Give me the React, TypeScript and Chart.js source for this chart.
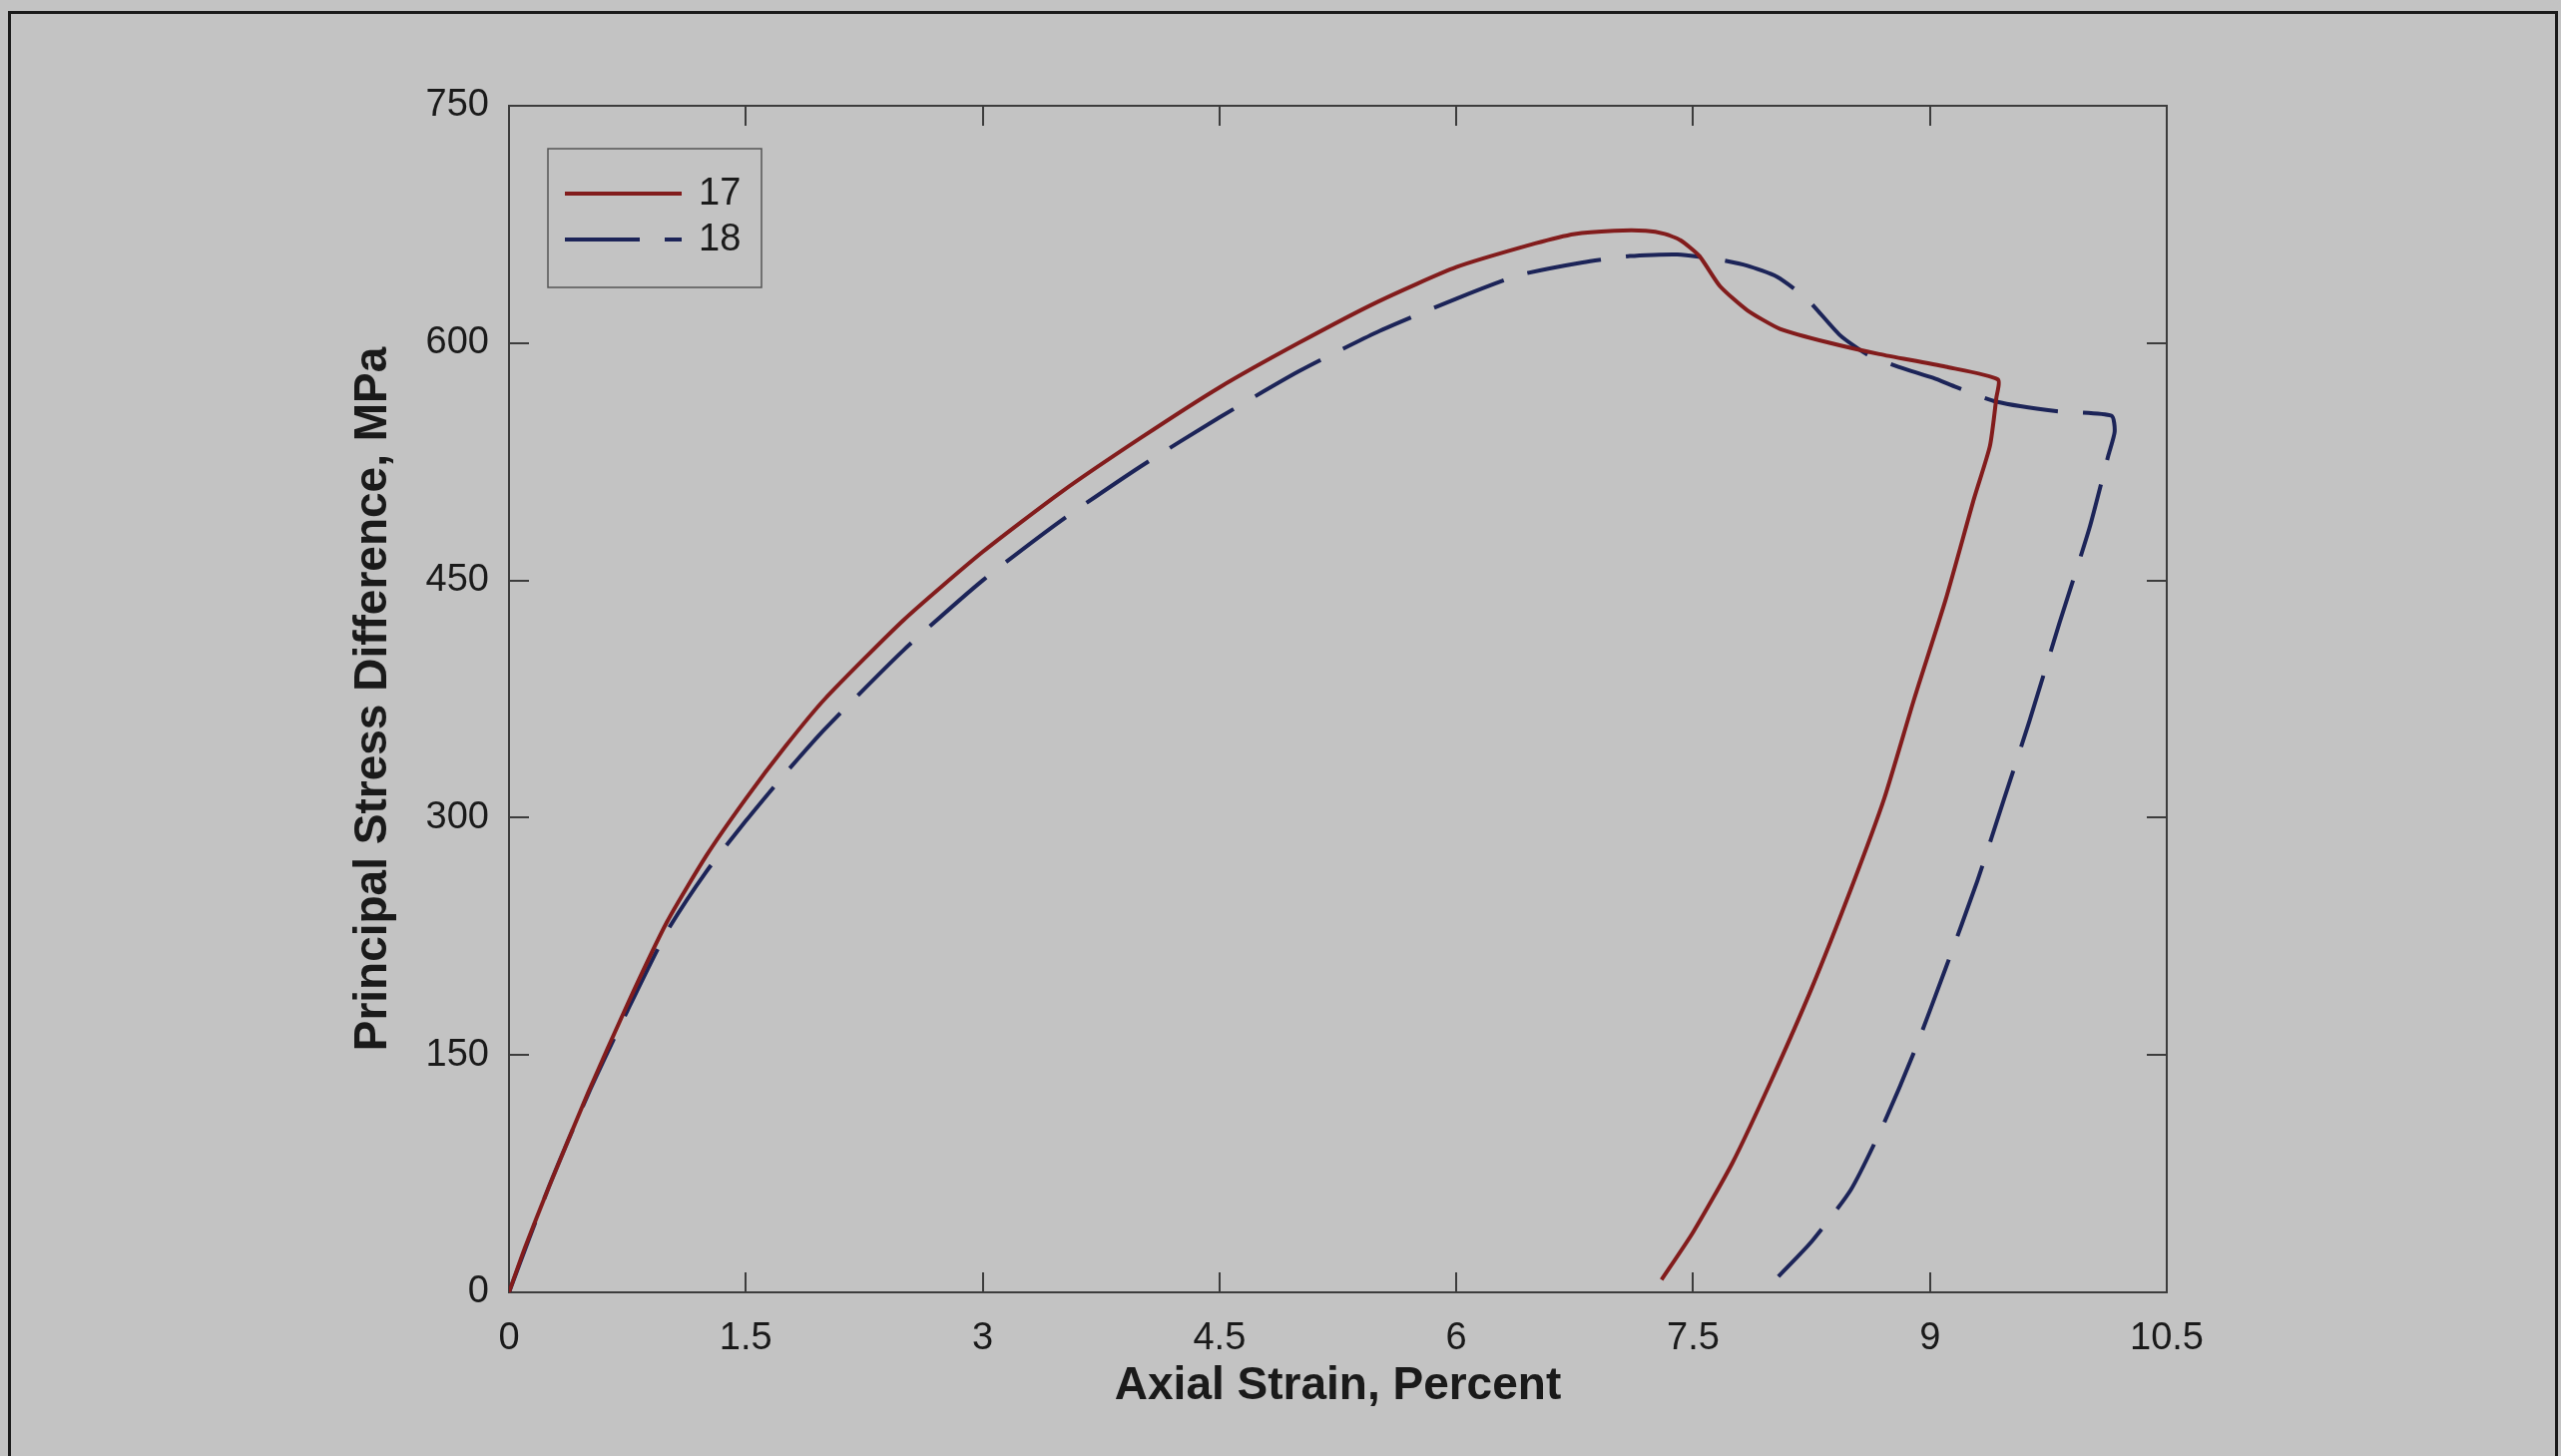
import React, { useEffect, useRef } from 'react';
import { Chart, registerables } from 'chart.js';

Chart.register(...registerables);

// ---- data ----
const xTickValues = [0, 1.5, 3, 4.5, 6, 7.5, 9, 10.5];
const yTickValues = [0, 150, 300, 450, 600, 750];

const seriesLabels = ['17', '18'];

const strain17 = [0, 0.1, 0.25, 0.5, 0.75, 1.0, 1.25, 1.5, 1.75, 2.0, 2.5, 3.0, 3.5, 4.0, 4.5, 5.0, 5.5, 6.0, 6.5, 6.75, 7.0, 7.2, 7.32, 7.42, 7.54, 7.67, 7.84, 8.05, 8.37, 8.68, 9.1, 9.43, 9.42, 9.38, 9.28, 9.1, 8.9, 8.71, 8.5, 8.25, 8.0, 7.75, 7.5, 7.3];
const stress17 = [0, 28, 66, 126, 182, 234, 276, 312, 345, 375, 425, 468, 506, 540, 572, 600, 626, 648, 663, 669, 671, 671, 669, 665, 655, 636, 621, 609, 600, 593, 585, 577, 565, 535, 502, 438, 375, 312, 255, 192, 135, 82, 38, 8];

const strain18 = [0, 0.25, 0.5, 0.75, 1.0, 1.25, 1.5, 1.75, 2.0, 2.5, 3.0, 3.5, 4.0, 4.5, 5.0, 5.5, 6.0, 6.4, 6.8, 7.1, 7.4, 7.65, 7.84, 8.03, 8.22, 8.43, 8.6, 8.8, 9.02, 9.17, 9.42, 9.8, 10.15, 10.17, 10.13, 10.01, 9.82, 9.63, 9.47, 9.3, 9.1, 8.9, 8.7, 8.5, 8.25, 8.04];
const stress18 = [0, 66, 125, 178, 228, 266, 298, 328, 356, 406, 450, 488, 522, 553, 582, 607, 628, 643, 651, 655, 656, 653, 649, 642, 628, 605, 593, 585, 578, 572, 563, 557, 554, 544, 529, 483, 423, 361, 312, 260, 205, 152, 105, 65, 32, 10];

const xTitle = 'Axial Strain, Percent';
const yTitle = 'Principal Stress Difference, MPa';

const RED = '#821c1c';
const BLUE = '#1c2458';
const BG = '#c3c3c3';
const FONT = '"Liberation Sans", Arial, sans-serif';

const toPoints = (xs: number[], ys: number[]) => xs.map((x, i) => ({ x, y: ys[i] }));

const framePlugin = {
  id: 'matlabFrame',
  beforeDatasetsDraw(chart: any) {
    const { ctx, chartArea } = chart;
    const { left, right, top, bottom } = chartArea;
    const xs = chart.scales.x;
    const ys = chart.scales.y;
    ctx.save();
    ctx.strokeStyle = '#3c3c3c';
    ctx.lineWidth = 2;
    ctx.strokeRect(left, top, right - left, bottom - top);
    const tl = 20;
    ctx.beginPath();
    xTickValues.forEach((v) => {
      const px = Math.round(xs.getPixelForValue(v));
      ctx.moveTo(px, bottom);
      ctx.lineTo(px, bottom - tl);
      ctx.moveTo(px, top);
      ctx.lineTo(px, top + tl);
    });
    yTickValues.forEach((v) => {
      const py = Math.round(ys.getPixelForValue(v));
      ctx.moveTo(left, py);
      ctx.lineTo(left + tl, py);
      ctx.moveTo(right, py);
      ctx.lineTo(right - tl, py);
    });
    ctx.stroke();
    ctx.restore();
  },
  afterDatasetsDraw(chart: any) {
    const { ctx, chartArea } = chart;
    const bx = chartArea.left + 39;
    const by = chartArea.top + 43;
    const bw = 214;
    const bh = 139;
    ctx.save();
    ctx.fillStyle = BG;
    ctx.fillRect(bx, by, bw, bh);
    ctx.strokeStyle = '#555';
    ctx.lineWidth = 1.5;
    ctx.strokeRect(bx, by, bw, bh);
    chart.data.datasets.forEach((ds: any, i: number) => {
      const ly = by + 45 + i * 46;
      ctx.beginPath();
      ctx.strokeStyle = ds.borderColor;
      ctx.lineWidth = ds.borderWidth;
      ctx.setLineDash(ds.borderDash || []);
      ctx.moveTo(bx + 17, ly);
      ctx.lineTo(bx + 134, ly);
      ctx.stroke();
      ctx.setLineDash([]);
      ctx.fillStyle = '#1a1a1a';
      ctx.font = `38px ${FONT}`;
      ctx.textBaseline = 'middle';
      ctx.textAlign = 'left';
      ctx.fillText(ds.label, bx + 151, ly + 1);
    });
    ctx.restore();
  },
};

export default function App() {
  const ref = useRef<HTMLCanvasElement>(null);

  useEffect(() => {
    document.body.style.margin = '0';
    const canvas = ref.current!;
    const chart = new Chart(canvas, {
      type: 'scatter',
      data: {
        datasets: [
          {
            label: seriesLabels[0],
            data: toPoints(strain17, stress17),
            showLine: true,
            borderColor: RED,
            backgroundColor: RED,
            borderWidth: 4,
            pointRadius: 0,
            tension: 0.2,
          },
          {
            label: seriesLabels[1],
            data: toPoints(strain18, stress18),
            showLine: true,
            borderColor: BLUE,
            backgroundColor: BLUE,
            borderWidth: 4,
            borderDash: [75, 25],
            pointRadius: 0,
            tension: 0.2,
          },
        ],
      },
      options: {
        responsive: false,
        animation: false,
        devicePixelRatio: 1,
        layout: { padding: { left: 0, top: 106, right: 395, bottom: 0 } },
        plugins: { legend: { display: false }, tooltip: { enabled: false } },
        scales: {
          x: {
            type: 'linear',
            min: 0,
            max: 10.5,
            afterBuildTicks: (s: any) => {
              s.ticks = xTickValues.map((v) => ({ value: v }));
            },
            afterFit: (s: any) => {
              s.height = 164;
            },
            grid: { display: false, drawTicks: false },
            border: { display: false },
            ticks: {
              padding: 24,
              color: '#1a1a1a',
              font: { family: FONT, size: 38 },
              callback: (v: any) => String(v),
              maxRotation: 0,
              autoSkip: false,
            },
            title: {
              display: true,
              text: xTitle,
              color: '#1a1a1a',
              font: { family: FONT, size: 46, weight: 'bold' },
              padding: { top: 0, bottom: 42 },
            },
          },
          y: {
            type: 'linear',
            min: 0,
            max: 750,
            afterBuildTicks: (s: any) => {
              s.ticks = yTickValues.map((v) => ({ value: v }));
            },
            afterFit: (s: any) => {
              s.width = 510;
            },
            grid: { display: false, drawTicks: false },
            border: { display: false },
            ticks: {
              padding: 20,
              color: '#1a1a1a',
              font: { family: FONT, size: 38 },
              callback: (v: any) => String(v),
              autoSkip: false,
            },
            title: {
              display: true,
              text: yTitle,
              color: '#1a1a1a',
              font: { family: FONT, size: 46, weight: 'bold' },
              padding: { top: 347, bottom: 0 },
            },
          },
        },
      },
      plugins: [framePlugin],
    } as any);
    return () => chart.destroy();
  }, []);

  return (
    <div style={{ position: 'relative', width: 2566, height: 1459, background: BG, overflow: 'hidden' }}>
      <div
        style={{
          position: 'absolute',
          left: 8,
          top: 11,
          width: 2555,
          height: 1470,
          border: '3px solid #1a1a1a',
          boxSizing: 'border-box',
        }}
      />
      <canvas
        ref={ref}
        width={2566}
        height={1459}
        style={{ position: 'absolute', left: 0, top: 0, width: 2566, height: 1459 }}
      />
    </div>
  );
}
